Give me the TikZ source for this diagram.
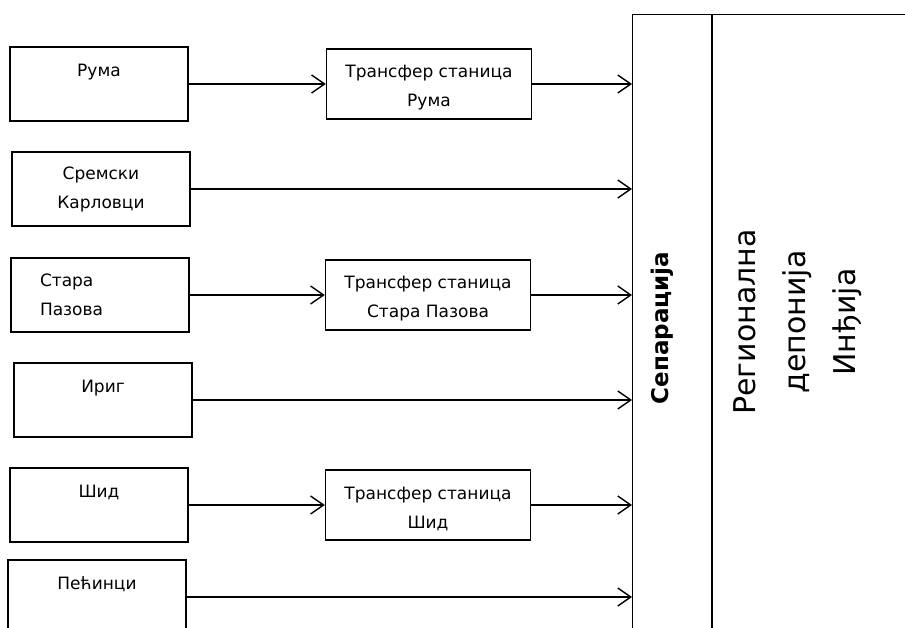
\documentclass[tikz,border=0pt]{standalone}
\usepackage{fontspec}
\setmainfont{DejaVu Sans}
\usetikzlibrary{arrows.meta}

\newcommand{\topgap}{\rule{0pt}{20pt}}

\begin{document}
\begin{tikzpicture}[x=1pt, y=-1pt,
    box/.style={draw, line width=1.4pt, minimum width=178pt, minimum height=74pt,
        align=center, font=\fontsize{17}{29}\selectfont},
    onerow/.style={box, text depth=27pt},
    transfer/.style={box, minimum width=205pt, minimum height=70pt},
    column/.style={draw, line width=1.4pt, minimum height=640pt, anchor=north west},
    flow/.style={line width=1.4pt, -{Straight Barb[length=13pt,width=18pt]}}]
\useasboundingbox (0,0) rectangle (905,628);

% municipalities
\node[onerow] (ruma) at (99,84) {Рума};
\node[box] (sremski) at (101,189) {Сремски\\Карловци};
\node[box, align=left, text width=120pt] (stara) at (100,295) {Стара\\Пазова};
\node[onerow] (irig) at (103,400) {Ириг};
\node[onerow] (sid) at (99,505) {Шид};
\node[onerow] (pecinci) at (97,597) {Пећинци};

% transfer stations
\node[transfer] (trruma) at (429,84) {\topgap Трансфер станица\\Рума};
\node[transfer] (trstara) at (428,295) {\topgap Трансфер станица\\Стара Пазова};
\node[transfer] (trsid) at (428,505) {\topgap Трансфер станица\\Шид};

% separation and landfill
\node[column, minimum width=80pt] (sep) at (632,14) {};
\node[column, minimum width=220pt] (dep) at (712,14) {};
\draw[line width=2.8pt] (dep.north west) -- (dep.south west);
\node[rotate=90, font=\fontsize{23}{28}\bfseries] (septext) at (662,328) {Сепарација};
\node[rotate=90, align=center, font=\fontsize{30}{50}\selectfont] (deptext) at (798,322)
    {Регионална\\депонија\\Инђија};

\draw[flow] (ruma) -- (trruma);
\draw[flow] (trruma) -- (trruma -| sep.west);
\draw[flow] (sremski) -- (sremski -| sep.west);
\draw[flow] (stara) -- (trstara);
\draw[flow] (trstara) -- (trstara -| sep.west);
\draw[flow] (irig) -- (irig -| sep.west);
\draw[flow] (sid) -- (trsid);
\draw[flow] (trsid) -- (trsid -| sep.west);
\draw[flow] (pecinci) -- (pecinci -| sep.west);
\end{tikzpicture}
\end{document}
